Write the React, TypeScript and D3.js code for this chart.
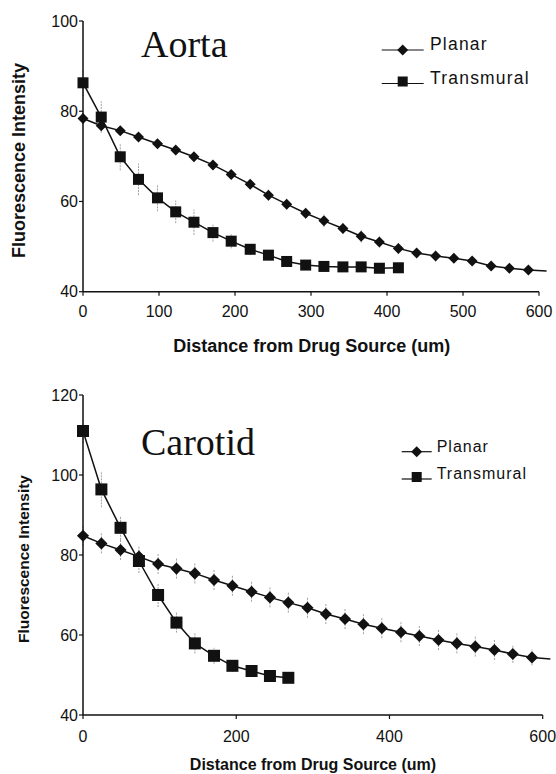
import * as d3 from "d3";

// distances (um), same sampling for both vessels
const distPlanar = [0, 24, 49, 73, 98, 122, 146, 171, 195, 220, 244, 268, 293, 317, 342, 366, 390, 415, 439, 464, 488, 512, 537, 561, 586, 610];
const distAortaTrans = [0, 24, 49, 73, 98, 122, 146, 171, 195, 220, 244, 268, 293, 317, 342, 366, 390, 415];
const distCarotidTrans = [0, 24, 49, 73, 98, 122, 146, 171, 195, 220, 244, 268];

// Aorta
const aortaPlanar = [78.4, 76.8, 75.7, 74.3, 72.8, 71.4, 69.9, 68.1, 66.0, 63.8, 61.4, 59.4, 57.4, 55.7, 54.0, 52.3, 51.0, 49.6, 48.6, 47.9, 47.4, 46.8, 45.7, 45.2, 44.8, 44.6];
const aortaPlanarErr = [1.2, 1.2, 1.0, 1.0, 1.0, 1.0, 1.0, 1.0, 1.0, 1.0, 1.2, 1.2, 1.2, 1.4, 1.2, 1.4, 1.2, 1.2, 1.0, 1.2, 1.0, 1.0, 0.8, 0.8, 0.8, 0];
const aortaTrans = [86.3, 78.7, 69.9, 64.9, 60.8, 57.7, 55.4, 53.1, 51.2, 49.4, 48.1, 46.7, 45.9, 45.6, 45.5, 45.5, 45.2, 45.3];
const aortaTransErr = [3.0, 3.5, 3.0, 3.5, 3.0, 2.5, 2.8, 2.0, 1.6, 1.3, 1.0, 1.0, 0.8, 0.8, 0.8, 0.8, 0.8, 0.6];

// Carotid
const carotidPlanar = [84.8, 82.9, 81.25, 79.6, 77.75, 76.6, 75.4, 73.75, 72.3, 70.8, 69.4, 68.1, 66.8, 65.25, 64.0, 62.7, 61.7, 60.7, 59.75, 58.75, 57.9, 57.1, 56.25, 55.25, 54.4, 54.0];
const carotidPlanarErr = [2.5, 2.5, 2.5, 2.5, 2.5, 2.5, 2.5, 2.5, 2.5, 2.5, 2.5, 2.5, 2.5, 2.5, 2.5, 2.5, 2.5, 2.5, 2.5, 2.5, 2.5, 2.5, 2.5, 2.2, 2.0, 0];
const carotidTrans = [111.0, 96.4, 86.8, 78.5, 70.0, 63.1, 57.9, 54.8, 52.3, 51.0, 49.75, 49.3];
const carotidTransErr = [3.0, 4.5, 3.0, 3.0, 3.0, 2.5, 2.5, 2.0, 1.5, 1.2, 1.0, 1.0];

const aortaYTicks = [40, 60, 80, 100];
const aortaXTicks = [0, 100, 200, 300, 400, 500, 600];
const carotidYTicks = [40, 60, 80, 100, 120];
const carotidXTicks = [0, 200, 400, 600];

const SANS = "'Liberation Sans', Arial, sans-serif";
const SERIF = "'Liberation Serif', 'Times New Roman', serif";
const INK = "#111";
const ERR = "#a0a0a0";

type Series = { x: number[]; y: number[]; err: number[]; shape: "diamond" | "square" };

function Marker({ shape, cx, cy, s }: { shape: string; cx: number; cy: number; s: number }) {
  if (shape === "diamond")
    return <path d={`M${cx},${cy - s * 0.55}L${cx + s * 0.55},${cy}L${cx},${cy + s * 0.55}L${cx - s * 0.55},${cy}Z`} fill={INK} />;
  return <rect x={cx - s / 2} y={cy - s / 2} width={s} height={s} fill={INK} />;
}

function Panel(props: {
  x0: number; x1: number; yTop: number; yBot: number;
  yDomain: [number, number]; yTicks: number[]; xTicks: number[];
  series: Series[]; title: string; titleX: number; titleY: number;
  legend: { x: number; y1: number; y2: number; len: number; mk: number; tx: number; fs: number; ls: number };
  yTitle: { x: number; y: number; fs: number }; xTitle: { x: number; y: number; fs: number };
  xLabelY: number; markSize: number;
}) {
  const p = props;
  const x = d3.scaleLinear([0, 600], [p.x0, p.x1]);
  const y = d3.scaleLinear(p.yDomain, [p.yBot, p.yTop]);
  const line = d3.line<number>();
  const lg = p.legend;

  return (
    <g>
      {/* error bars */}
      {p.series.map((s, si) =>
        s.x.map((d, i) =>
          s.err[i] > 0 ? (
            <line key={`e${si}-${i}`} x1={x(d)} x2={x(d)} y1={y(s.y[i] - s.err[i])} y2={y(s.y[i] + s.err[i])}
              stroke={ERR} strokeWidth={1} strokeDasharray="2,1" />
          ) : null
        )
      )}

      {/* lines */}
      {p.series.map((s, si) => (
        <path key={`l${si}`} d={line(s.x.map((d, i) => [x(d), y(s.y[i])]) as any) ?? ""}
          fill="none" stroke={INK} strokeWidth={1.5} />
      ))}

      {/* markers */}
      {p.series.map((s, si) =>
        s.x.map((d, i) => (d <= 600 ? <Marker key={`m${si}-${i}`} shape={s.shape} cx={x(d)} cy={y(s.y[i])} s={s.shape === "square" ? p.markSize + 1 : p.markSize} /> : null))
      )}

      {/* y axis */}
      <line x1={p.x0} x2={p.x0} y1={p.yTop} y2={p.yBot} stroke={INK} strokeWidth={1.5} />
      {p.yTicks.map((t) => (
        <g key={`yt${t}`}>
          <line x1={p.x0 - 4} x2={p.x0} y1={y(t)} y2={y(t)} stroke={INK} strokeWidth={1.2} />
          <text x={p.x0 - 5} y={y(t)} dy="0.35em" textAnchor="end" fontSize={16} fontFamily={SANS} fill={INK}>{t}</text>
        </g>
      ))}

      {/* x axis */}
      <line x1={p.x0} x2={p.x1} y1={p.yBot} y2={p.yBot} stroke={INK} strokeWidth={1.5} />
      {p.xTicks.map((t) => (
        <g key={`xt${t}`}>
          <line x1={x(t)} x2={x(t)} y1={p.yBot} y2={p.yBot + 4} stroke={INK} strokeWidth={1.2} />
          <text x={x(t)} y={p.xLabelY} textAnchor="middle" fontSize={16} fontFamily={SANS} fill={INK}>{t}</text>
        </g>
      ))}

      {/* titles */}
      <text x={p.titleX} y={p.titleY} fontSize={38} fontFamily={SERIF} fill={INK}>{p.title}</text>
      <text transform={`translate(${p.yTitle.x},${p.yTitle.y}) rotate(-90)`} textAnchor="middle" dy="0.35em"
        fontSize={p.yTitle.fs} fontWeight="bold" fontFamily={SANS} fill={INK}>Fluorescence Intensity</text>
      <text x={p.xTitle.x} y={p.xTitle.y} textAnchor="middle" fontSize={p.xTitle.fs} fontWeight="bold" fontFamily={SANS} fill={INK}>
        Distance from Drug Source (um)
      </text>

      {/* legend */}
      {[{ label: "Planar", shape: "diamond", ly: lg.y1 }, { label: "Transmural", shape: "square", ly: lg.y2 }].map((e) => (
        <g key={e.label}>
          <line x1={lg.x} x2={lg.x + lg.len} y1={e.ly} y2={e.ly} stroke={INK} strokeWidth={1.2} />
          <Marker shape={e.shape} cx={lg.x + lg.len / 2} cy={e.shape === "square" ? e.ly - 2 : e.ly} s={lg.mk} />
          <text x={lg.tx} y={e.ly} fontSize={lg.fs} letterSpacing={lg.ls} fontFamily={SANS} fill={INK}>{e.label}</text>
        </g>
      ))}
    </g>
  );
}

export default function App() {
  return (
    <div style={{ position: "absolute", left: 0, top: 0, background: "#fff" }}>
      <svg width={556} height={774} style={{ display: "block" }}>
        <rect width={556} height={774} fill="#fff" />
        <Panel
          x0={83} x1={539} yTop={21} yBot={291.7} yDomain={[40, 100]}
          yTicks={aortaYTicks} xTicks={aortaXTicks}
          series={[
            { x: distPlanar, y: aortaPlanar, err: aortaPlanarErr, shape: "diamond" },
            { x: distAortaTrans, y: aortaTrans, err: aortaTransErr, shape: "square" },
          ]}
          title="Aorta" titleX={141} titleY={56.5}
          legend={{ x: 381.7, y1: 50, y2: 83.5, len: 42, mk: 10, tx: 430, fs: 17.5, ls: 1.2 }}
          yTitle={{ x: 18.5, y: 160.5, fs: 18 }} xTitle={{ x: 311.7, y: 352, fs: 18 }}
          xLabelY={317} markSize={10}
        />
        <Panel
          x0={83} x1={542.7} yTop={395} yBot={715} yDomain={[40, 120]}
          yTicks={carotidYTicks} xTicks={carotidXTicks}
          series={[
            { x: distPlanar, y: carotidPlanar, err: carotidPlanarErr, shape: "diamond" },
            { x: distCarotidTrans, y: carotidTrans, err: carotidTransErr, shape: "square" },
          ]}
          title="Carotid" titleX={141} titleY={455}
          legend={{ x: 401.7, y1: 451.7, y2: 479, len: 30, mk: 10, tx: 436.7, fs: 16, ls: 1 }}
          yTitle={{ x: 24, y: 559, fs: 15.5 }} xTitle={{ x: 313, y: 770, fs: 16 }}
          xLabelY={741.7} markSize={11}
        />
      </svg>
    </div>
  );
}
